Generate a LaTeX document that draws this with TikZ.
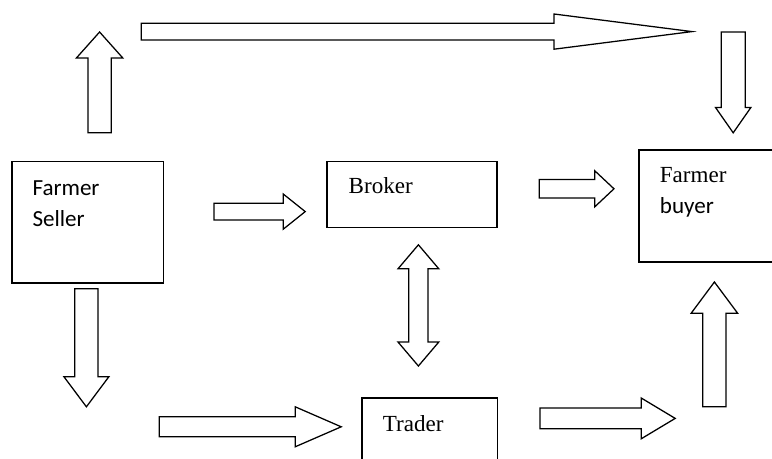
\documentclass[tikz,border=0pt]{standalone}
\usepackage{fontspec}
\newfontfamily\carlito{Carlito}
\newfontfamily\libserif{Liberation Serif}
\usetikzlibrary{calc}

% block arrow: tail, tip, half shaft, half head, head length (cm)
\newcommand{\blockarrow}[5]{%
  \coordinate (#2-hb) at ($(#2)!#5cm!(#1)$);
  \draw[barrow] ($(#1)!#3cm!90:(#2)$) -- ($(#2-hb)!#3cm!90:(#2)$)
    -- ($(#2-hb)!#4cm!90:(#2)$) -- (#2)
    -- ($(#2-hb)!#4cm!-90:(#2)$) -- ($(#2-hb)!#3cm!-90:(#2)$)
    -- ($(#1)!#3cm!-90:(#2)$) -- cycle;
}
% double block arrow: tip a, tip b, half shaft, half head, head length (cm)
\newcommand{\dblarrow}[5]{%
  \coordinate (#1-hb) at ($(#1)!#5cm!(#2)$);
  \coordinate (#2-hb) at ($(#2)!#5cm!(#1)$);
  \draw[barrow] (#1) -- ($(#1-hb)!#4cm!90:(#2)$) -- ($(#1-hb)!#3cm!90:(#2)$)
    -- ($(#2-hb)!#3cm!90:(#2)$) -- ($(#2-hb)!#4cm!90:(#2)$) -- (#2)
    -- ($(#2-hb)!#4cm!-90:(#2)$) -- ($(#2-hb)!#3cm!-90:(#2)$)
    -- ($(#1-hb)!#3cm!-90:(#2)$) -- ($(#1-hb)!#4cm!-90:(#2)$) -- cycle;
}

\begin{document}
\begin{tikzpicture}[
  mktbox/.style={draw, line width=0.8pt, fill=white, inner sep=0pt},
  barrow/.style={draw, line width=0.9pt, fill=white, line join=miter},
  sanslbl/.style={anchor=base west, inner sep=0pt, font=\carlito\fontsize{16.4}{19.7}\selectfont},
  seriflbl/.style={anchor=base west, inner sep=0pt, font=\libserif\fontsize{16.4}{19.7}\selectfont},
]

% Page
\useasboundingbox (0,0) rectangle (19.3,11.45);
\clip (0,0) rectangle (19.3,11.45);
\fill[white] (0,0) rectangle (19.3,11.45);

% === Boxes ===
\node[mktbox, minimum width=3.78cm, minimum height=3.03cm] (seller) at (2.19,5.89) {};
\node[sanslbl] (seller-t1) at ($(seller.north west)+(0.52,-0.85)$) {Farmer};
\node[sanslbl] (seller-t2) at ($(seller.north west)+(0.52,-1.63)$) {Seller};

\node[mktbox, minimum width=4.25cm, minimum height=1.65cm] (broker) at (10.3,6.58) {};
\node[seriflbl] (broker-t) at ($(broker.north west)+(0.55,-0.8)$) {Broker};

\node[mktbox, minimum width=4.03cm, minimum height=2.8cm] (buyer) at (17.99,6.3) {};
\node[seriflbl] (buyer-t1) at ($(buyer.north west)+(0.53,-0.83)$) {Farmer};
\node[sanslbl] (buyer-t2) at ($(buyer.north west)+(0.53,-1.6)$) {buyer};

\node[mktbox, minimum width=3.38cm, minimum height=1.8cm] (trader) at (10.74,0.6) {};
\node[seriflbl] (trader-t) at ($(trader.north west)+(0.53,-0.84)$) {Trader};

% === Arrow ends ===
\coordinate (upL-s) at (2.49,8.13);    \coordinate (upL-e) at (2.49,10.65);
\coordinate (top-s) at (3.53,10.66);   \coordinate (top-e) at (17.3,10.66);
\coordinate (dnR-s) at (18.33,10.65);  \coordinate (dnR-e) at (18.33,8.13);
\coordinate (sb-s) at (5.35,6.16);     \coordinate (sb-e) at (7.63,6.16);
\coordinate (bb-s) at (13.48,6.73);    \coordinate (bb-e) at (15.35,6.73);
\coordinate (bt-a) at (10.46,5.33);    \coordinate (bt-b) at (10.46,2.3);
\coordinate (dnL-s) at (2.16,4.23);    \coordinate (dnL-e) at (2.16,1.28);
\coordinate (st-s) at (3.98,0.78);     \coordinate (st-e) at (8.53,0.78);
\coordinate (tr-s) at (13.5,0.99);     \coordinate (tr-e) at (16.88,0.99);
\coordinate (upR-s) at (17.86,1.28);   \coordinate (upR-e) at (17.86,4.4);

% === Block arrows ===
\blockarrow{upL-s}{upL-e}{0.29}{0.58}{0.65}
\blockarrow{top-s}{top-e}{0.21}{0.44}{3.45}
\blockarrow{dnR-s}{dnR-e}{0.3}{0.44}{0.63}
\blockarrow{sb-s}{sb-e}{0.21}{0.44}{0.55}
\blockarrow{bb-s}{bb-e}{0.23}{0.45}{0.48}
\dblarrow{bt-a}{bt-b}{0.24}{0.51}{0.6}
\blockarrow{dnL-s}{dnL-e}{0.29}{0.56}{0.75}
\blockarrow{st-s}{st-e}{0.25}{0.5}{1.15}
\blockarrow{tr-s}{tr-e}{0.26}{0.51}{0.85}
\blockarrow{upR-s}{upR-e}{0.29}{0.58}{0.78}

\end{tikzpicture}
\end{document}
